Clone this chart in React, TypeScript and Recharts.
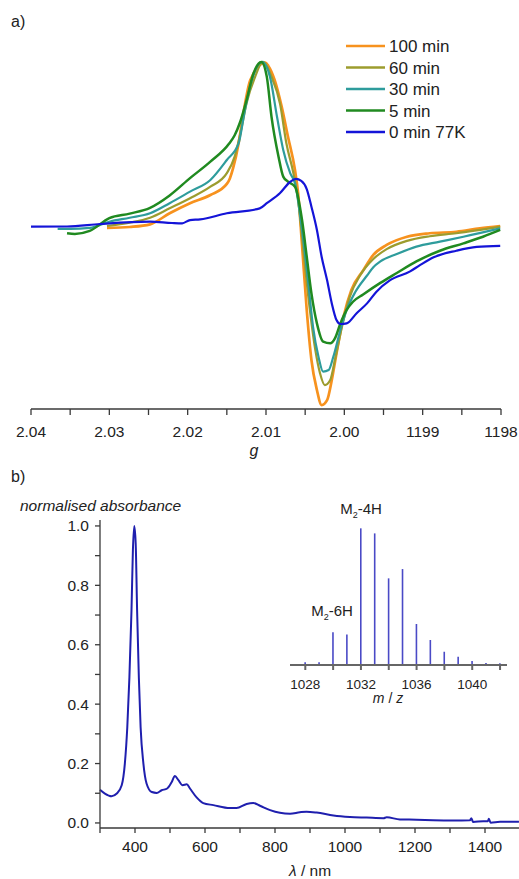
import React from "react";
import { LineChart, Line, XAxis, YAxis, BarChart, Bar } from "recharts";

if (typeof document !== "undefined") {
  document.body.style.margin = "0";
}

const FONT = "'Liberation Sans', Arial, Helvetica, sans-serif";

// ---------- panel a) EPR ----------
const gMajorTicks = [2.04, 2.03, 2.02, 2.01, 2.0, 1.99, 1.98];
const gMajorLabels = ["2.04", "2.03", "2.02", "2.01", "2.00", "1199", "1198"];
const gMinorTicks = [2.035, 2.025, 2.015, 2.005, 1.995, 1.985];

const seriesNames = ["100 min", "60 min", "30 min", "5 min", "0 min 77K"];
const seriesColors = ["#F7921E", "#9C9C2E", "#2E9C9C", "#208A20", "#1414D8"];

const g100 = [2.0303, 2.0274, 2.0248, 2.0223, 2.0197, 2.0171, 2.015, 2.0146, 2.0142, 2.0135, 2.0129, 2.012, 2.0101, 2.0097, 2.0089, 2.008, 2.0072, 2.0063, 2.0059, 2.0054, 2.0048, 2.0042, 2.0035, 2.0029, 2.0022, 2.0016, 2.001, 2.0001, 1.9991, 1.9976, 1.9963, 1.9946, 1.992, 1.9891, 1.9857, 1.9827, 1.9801];
const s100 = [-0.012, -0.006, 0.01, 0.077, 0.138, 0.188, 0.255, 0.29, 0.35, 0.5, 0.68, 0.885, 0.99, 0.97, 0.885, 0.723, 0.542, 0.339, 0.198, -0.115, -0.509, -0.812, -0.994, -1.085, -1.055, -0.933, -0.772, -0.55, -0.388, -0.27, -0.175, -0.115, -0.065, -0.044, -0.035, -0.014, 0.0];

const g60 = [2.0303, 2.0274, 2.0248, 2.0223, 2.0197, 2.0171, 2.015, 2.014, 2.0131, 2.0125, 2.0114, 2.0104, 2.0093, 2.0082, 2.0074, 2.0065, 2.0059, 2.0054, 2.0046, 2.0037, 2.0031, 2.0025, 2.0018, 2.0012, 2.0003, 1.9993, 1.998, 1.9963, 1.9946, 1.992, 1.9891, 1.9857, 1.9801];
const s60 = [0.0, 0.02, 0.05, 0.107, 0.168, 0.238, 0.32, 0.42, 0.6, 0.74, 0.903, 0.994, 0.905, 0.739, 0.501, 0.32, 0.158, -0.065, -0.428, -0.752, -0.893, -0.964, -0.933, -0.812, -0.61, -0.428, -0.3, -0.2, -0.14, -0.09, -0.062, -0.044, -0.004];

const g30 = [2.0366, 2.035, 2.0325, 2.03, 2.0274, 2.0248, 2.0223, 2.0197, 2.0171, 2.015, 2.0135, 2.0127, 2.0118, 2.0105, 2.0095, 2.0086, 2.0078, 2.0069, 2.0063, 2.0054, 2.0046, 2.004, 2.0033, 2.0027, 2.002, 2.0014, 2.0005, 1.9997, 1.9986, 1.9971, 1.9963, 1.9954, 1.9933, 1.9908, 1.9878, 1.9848, 1.9801];
const s30 = [-0.018, -0.018, -0.012, 0.026, 0.05, 0.077, 0.138, 0.208, 0.279, 0.4, 0.5, 0.7, 0.885, 0.994, 0.905, 0.663, 0.461, 0.319, 0.259, -0.024, -0.348, -0.61, -0.792, -0.883, -0.873, -0.792, -0.63, -0.509, -0.4, -0.3, -0.25, -0.215, -0.17, -0.125, -0.095, -0.065, -0.014];

const g5 = [2.0354, 2.0344, 2.0325, 2.03, 2.0274, 2.0248, 2.0223, 2.0197, 2.0171, 2.0147, 2.014, 2.0133, 2.0125, 2.0116, 2.0106, 2.0099, 2.0093, 2.0084, 2.0078, 2.0072, 2.0063, 2.0054, 2.0048, 2.0042, 2.0035, 2.0027, 2.0018, 2.0012, 2.0005, 1.9997, 1.9989, 1.9976, 1.9954, 1.9933, 1.9908, 1.9878, 1.9848, 1.9823, 1.9801];
const s5 = [-0.044, -0.048, -0.03, 0.048, 0.075, 0.11, 0.185, 0.29, 0.39, 0.5, 0.55, 0.63, 0.76, 0.925, 0.994, 0.905, 0.663, 0.42, 0.299, 0.269, 0.238, 0.036, -0.186, -0.408, -0.59, -0.701, -0.711, -0.681, -0.59, -0.509, -0.459, -0.415, -0.345, -0.285, -0.215, -0.15, -0.105, -0.065, -0.024];

const g0 = [2.04, 2.0354, 2.0312, 2.0248, 2.022, 2.0207, 2.0197, 2.0184, 2.015, 2.0108, 2.0099, 2.0082, 2.0069, 2.0062, 2.0055, 2.0048, 2.0042, 2.0035, 2.0029, 2.0022, 2.0016, 2.001, 2.0005, 1.9997, 1.9984, 1.9971, 1.9959, 1.9942, 1.9916, 1.9903, 1.9886, 1.9857, 1.9831, 1.9801];
const s0 = [-0.004, -0.003, 0.012, 0.026, 0.018, 0.016, 0.036, 0.04, 0.077, 0.107, 0.138, 0.2, 0.268, 0.285, 0.273, 0.224, 0.117, -0.024, -0.186, -0.329, -0.469, -0.57, -0.594, -0.59, -0.527, -0.469, -0.398, -0.33, -0.275, -0.236, -0.19, -0.15, -0.127, -0.121];

const eprG = [g100, g60, g30, g5, g0];
const eprS = [s100, s60, s30, s5, s0];

// ---------- panel b) UV-vis ----------
const uvWavelength = [300, 314, 333, 348, 362, 371, 378, 384, 390, 394, 398, 402, 406, 411, 416, 424, 433, 448, 462, 476, 492, 505, 514, 524, 536, 548, 557, 576, 595, 624, 671, 690, 719, 738, 757, 786, 814, 843, 871, 890, 919, 967, 1014, 1062, 1110, 1119, 1157, 1205, 1252, 1310, 1357, 1361, 1366, 1395, 1408, 1411, 1416, 1443, 1497];
const uvAbsorbance = [0.112, 0.099, 0.09, 0.099, 0.127, 0.2, 0.323, 0.49, 0.716, 0.918, 1.0, 0.94, 0.716, 0.49, 0.323, 0.2, 0.133, 0.104, 0.101, 0.11, 0.116, 0.138, 0.158, 0.144, 0.127, 0.13, 0.116, 0.086, 0.067, 0.06, 0.05, 0.05, 0.064, 0.067, 0.058, 0.043, 0.034, 0.031, 0.036, 0.038, 0.035, 0.025, 0.02, 0.018, 0.016, 0.019, 0.012, 0.011, 0.009, 0.008, 0.009, 0.016, 0.003, 0.006, 0.006, 0.014, 0.001, 0.004, 0.004];
const uvXTicks = [300, 400, 500, 600, 700, 800, 900, 1000, 1100, 1200, 1300, 1400, 1500];
const uvYTicks = [0, 0.1, 0.2, 0.3, 0.4, 0.5, 0.6, 0.7, 0.8, 0.9, 1.0];

// ---------- inset MS ----------
const msMz = [1028, 1029, 1030, 1031, 1032, 1033, 1034, 1035, 1036, 1037, 1038, 1039, 1040, 1041, 1042];
const msIntensity = [0.02, 0.02, 0.239, 0.224, 1.0, 0.963, 0.634, 0.702, 0.3, 0.183, 0.097, 0.061, 0.03, 0.015, 0.012];
const msTicks = [1028, 1030, 1032, 1034, 1036, 1038, 1040, 1042];
const msLabelTicks = [1028, 1032, 1036, 1040];

const eprData = eprG.map((gs, i) => gs.map((g, j) => ({ g, v: eprS[i][j] })));
const uvData = uvWavelength.map((w, i) => ({ w, a: uvAbsorbance[i] }));
const msData = msMz.map((m, i) => ({ m, y: msIntensity[i] }));

const gTicks = [...gMajorTicks, ...gMinorTicks].sort((a, b) => b - a);
const gFormat = (v: number) => {
  const i = gMajorTicks.findIndex((t) => Math.abs(t - v) < 1e-6);
  return i >= 0 ? gMajorLabels[i] : "";
};

const axisColor = "#3a3a3a";

export default function App() {
  return (
    <div style={{ position: "relative", width: 519, height: 879, overflow: "hidden", background: "#fff", fontFamily: FONT }}>
      <div style={{ position: "absolute", left: 0, top: 0 }}>
        <LineChart width={519} height={440} margin={{ top: 40, right: 18, left: 31, bottom: 1 }}>
          <XAxis
            type="number"
            dataKey="g"
            domain={[1.98, 2.04]}
            reversed
            allowDataOverflow
            ticks={gTicks}
            interval={0}
            tickFormatter={gFormat}
            tickSize={6}
            tickMargin={11}
            height={30}
            stroke={axisColor}
            strokeWidth={1.3}
            tick={{ fill: "#222", fontSize: 15.5, fontFamily: FONT }}
          />
          <YAxis hide type="number" domain={[-1.109, 1.127]} allowDataOverflow />
          {eprData.map((d, i) => (
            <Line
              key={seriesNames[i]}
              data={d}
              dataKey="v"
              name={seriesNames[i]}
              type="monotone"
              stroke={seriesColors[i]}
              strokeWidth={i === 0 ? 2.7 : i === 3 ? 2.5 : 2.2}
              dot={false}
              isAnimationActive={false}
            />
          ))}
        </LineChart>
      </div>

      <div style={{ position: "absolute", left: 0, top: 440 }}>
        <LineChart width={540} height={439} data={uvData} margin={{ top: 80, right: 20, left: 50, bottom: 21 }}>
          <XAxis
            type="number"
            dataKey="w"
            domain={[300, 1500]}
            ticks={uvXTicks}
            interval={0}
            tickFormatter={(v: number) => (v % 200 === 0 ? String(v) : "")}
            tickSize={5}
            tickMargin={8}
            height={30}
            stroke={axisColor}
            strokeWidth={1.3}
            tick={{ fill: "#222", fontSize: 15.5, fontFamily: FONT }}
          />
          <YAxis
            type="number"
            domain={[-0.017, 1.02]}
            allowDataOverflow
            ticks={uvYTicks}
            interval={0}
            tickFormatter={(v: number) => (Math.round(v * 10) % 2 === 0 ? v.toFixed(1) : "")}
            tickSize={5}
            tickMargin={6}
            width={50}
            stroke={axisColor}
            strokeWidth={1.3}
            tick={{ fill: "#222", fontSize: 15.5, fontFamily: FONT }}
          />
          <Line dataKey="a" type="monotone" stroke="#1f1fae" strokeWidth={2} dot={false} isAnimationActive={false} />
        </LineChart>
      </div>

      <div style={{ position: "absolute", left: 280, top: 500 }}>
        <BarChart width={232} height={200} data={msData} margin={{ top: 20, right: 5, left: 10, bottom: 5 }}>
          <XAxis
            type="number"
            dataKey="m"
            domain={[1026.9, 1042.5]}
            allowDataOverflow
            ticks={msTicks}
            interval={0}
            tickFormatter={(v: number) => (msLabelTicks.includes(v) ? String(v) : "")}
            tickSize={5}
            tickMargin={9}
            height={30}
            stroke="#666"
            strokeWidth={2}
            tick={{ fill: "#222", fontSize: 13.5, fontFamily: FONT }}
          />
          <YAxis hide type="number" domain={[0, 1.061]} allowDataOverflow />
          <Bar dataKey="y" fill="#4a4ac6" barSize={1.6} isAnimationActive={false} />
        </BarChart>
      </div>

      <svg width={519} height={879} style={{ position: "absolute", left: 0, top: 0, pointerEvents: "none" }} fontFamily={FONT}>
        <text x={11} y={27} fontSize={16} fill="#222">a)</text>
        <text x={11} y={482} fontSize={16} fill="#222">b)</text>
        <text x={254} y={456} fontSize={16} fontStyle="italic" textAnchor="middle" fill="#222">g</text>
        <text x={20} y={511} fontSize={15.5} fontStyle="italic" fill="#222">normalised absorbance</text>
        <text x={310} y={876} fontSize={15.5} textAnchor="middle" fill="#222">
          <tspan fontStyle="italic">λ</tspan> / nm
        </text>
        <text x={388} y={703} fontSize={14} textAnchor="middle" fill="#222">
          <tspan fontStyle="italic">m</tspan> / <tspan fontStyle="italic">z</tspan>
        </text>
        <text x={361} y={514} fontSize={15} textAnchor="middle" fill="#222">
          M<tspan fontSize={9} dy={4}>2</tspan><tspan dy={-4}>-4H</tspan>
        </text>
        <text x={332} y={616} fontSize={15} textAnchor="middle" fill="#222">
          M<tspan fontSize={9} dy={4}>2</tspan><tspan dy={-4}>-6H</tspan>
        </text>
        {seriesNames.map((n, i) => (
          <g key={n}>
            <line x1={346} x2={385} y1={46 + i * 21.5} y2={46 + i * 21.5} stroke={seriesColors[i]} strokeWidth={2.6} />
            <text x={389} y={52 + i * 21.5} fontSize={17} fill="#222">{n}</text>
          </g>
        ))}
      </svg>
    </div>
  );
}
